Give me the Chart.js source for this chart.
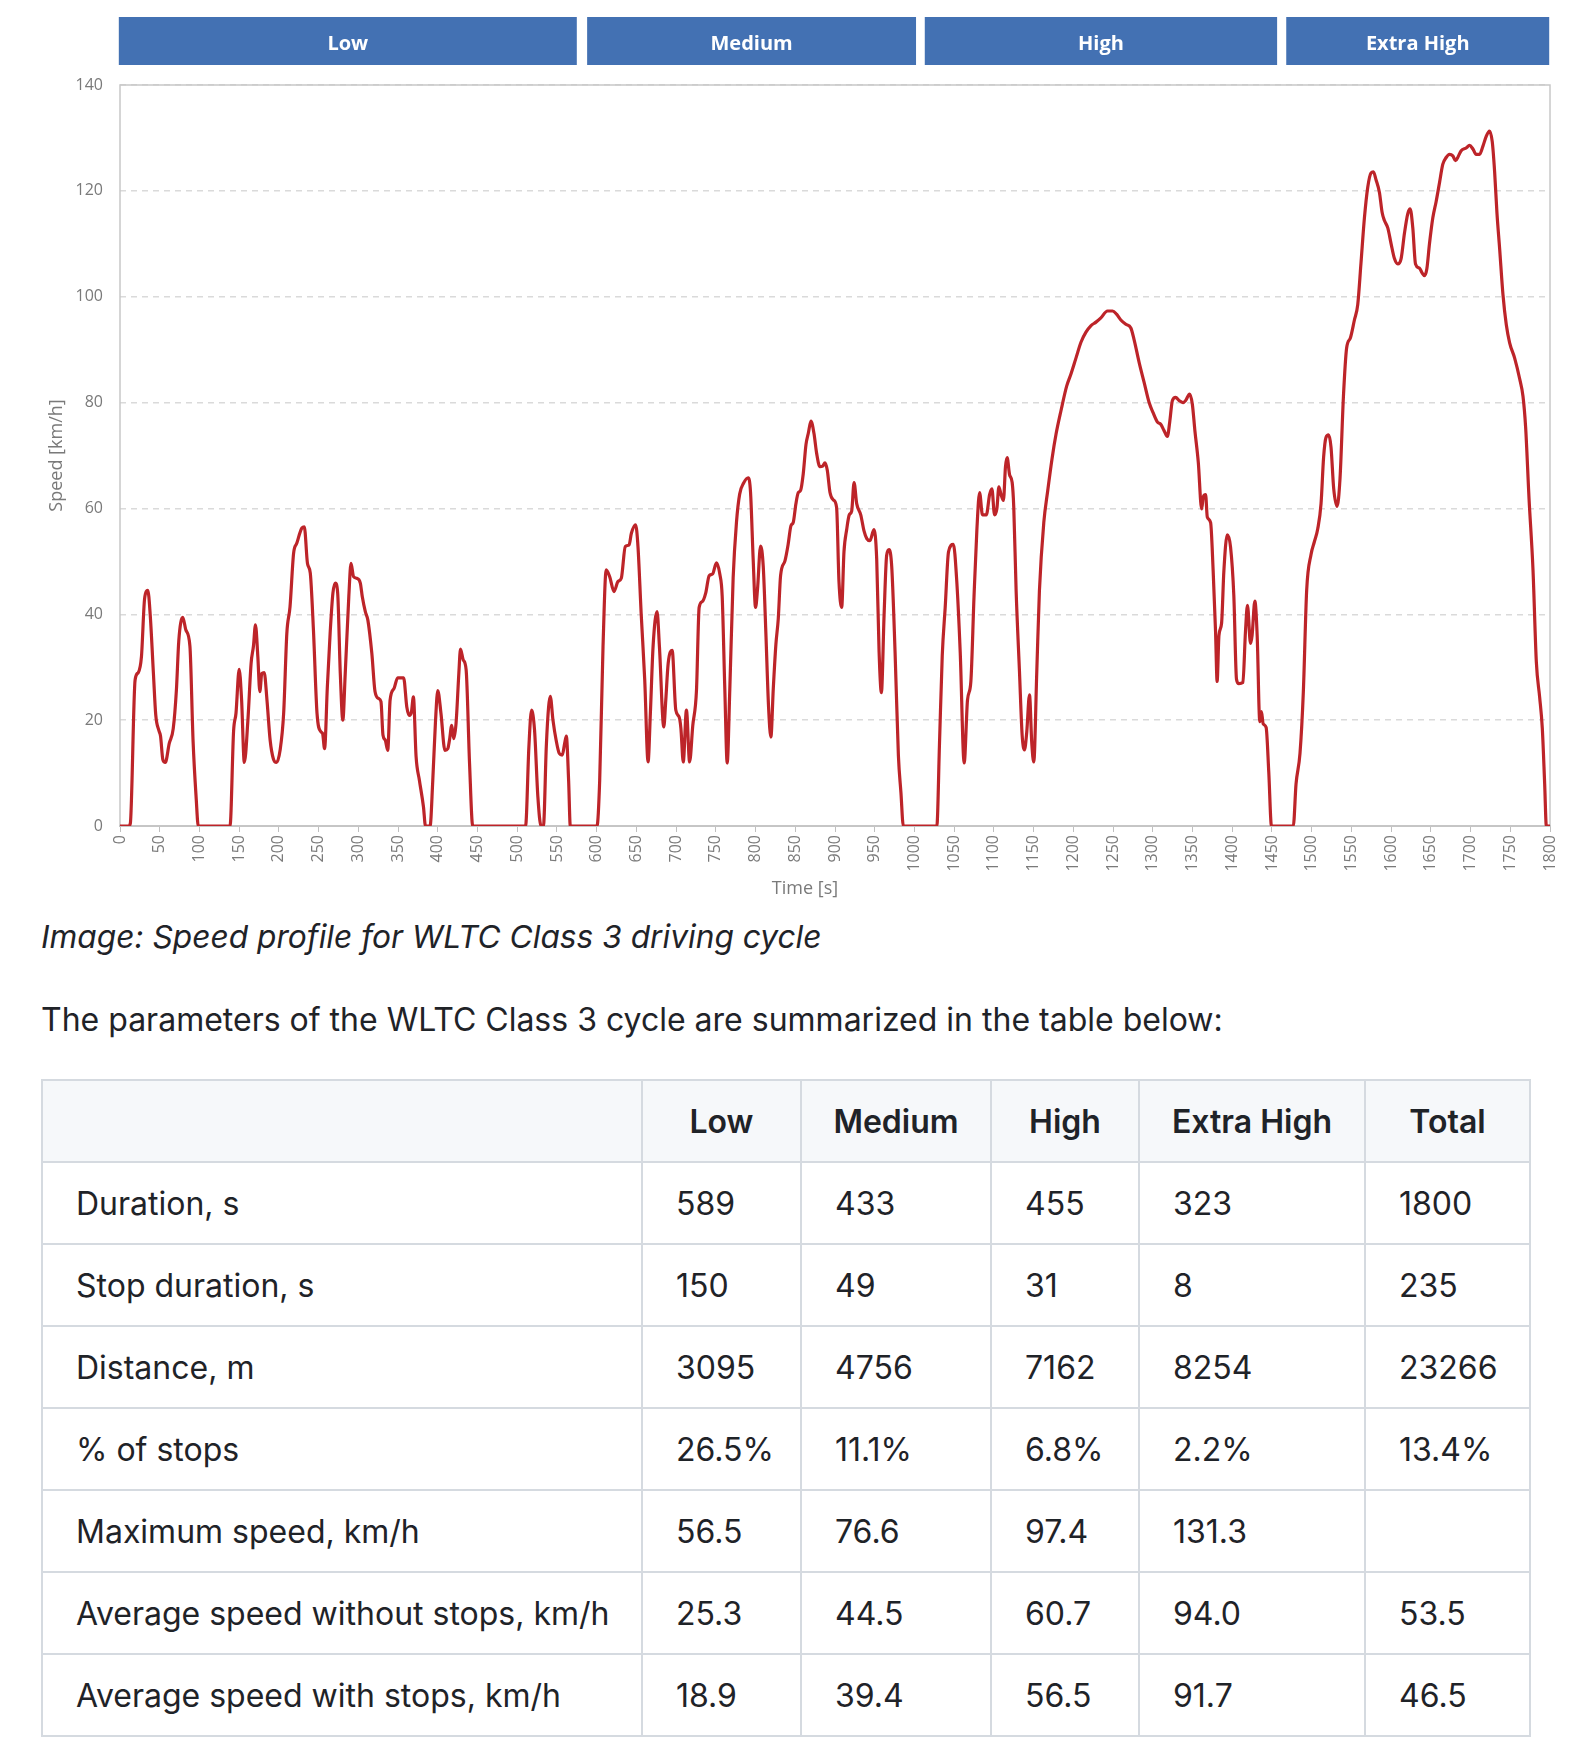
<!DOCTYPE html>
<html>
<head>
<meta charset="utf-8">
<script src="https://cdn.jsdelivr.net/npm/chart.js@4"></script>
<style>
  body { margin: 0; background: #ffffff; width: 1581px; height: 1737px; position: relative; overflow: hidden; }
  #chartBox { position: absolute; left: 0; top: 0; width: 1581px; height: 900px; }
  .caption { position: absolute; left: 41px; top: 917px; font-family: Inter, sans-serif; font-style: italic; font-size: 31.7px; line-height: 40px; color: #1f2328; }
  .para { position: absolute; left: 41px; top: 1000px; font-family: Inter, sans-serif; font-size: 32px; line-height: 40px; color: #1f2328; }
  table { position: absolute; left: 41px; top: 1079px; border-collapse: collapse; table-layout: fixed; font-family: Inter, sans-serif; font-size: 32px; color: #1f2328; }
  td, th { border: 2px solid #d5dae0; height: 82px; padding: 0 0 0 33px; text-align: left; box-sizing: border-box; white-space: nowrap; }
  th { background: #f6f8fa; font-weight: 600; text-align: center; padding: 0; }
</style>
</head>
<body>
<div id="chartBox"><canvas id="wltcChart" width="1581" height="900"></canvas></div>
<div class="caption">Image: Speed profile for WLTC Class 3 driving cycle</div>
<div class="para">The parameters of the WLTC Class 3 cycle are summarized in the table below:</div>
<table id="paramTable"></table>

<script>
// Zeit in s und Geschwindigkeit in km/h
const timeSec = [
  0, 11, 13, 19, 23, 27, 31, 35, 38, 42, 45, 49, 51, 54, 57, 62, 67, 71, 74, 79, 83, 88, 92, 96, 98.5,
  138.5, 143, 146, 150, 153, 156.5, 161, 165, 168, 170.5, 173.5, 176, 178.5, 181.5, 185, 189, 193, 197,
  201.5, 206, 210, 214, 218.5, 222.5, 229, 232, 236, 239.5, 243.5, 248, 253, 255, 257.5, 261, 264.5,
  268, 271, 274, 277.3, 280.5, 283.5, 288, 290.8, 294, 298, 302.5, 305, 308.8, 312, 317, 321, 325.5,
  328.5, 331, 334, 337, 340, 345, 349.5, 357, 361, 364.3, 366.8, 369.3, 372.7, 376.9, 382, 384.5,
  390.3, 393.7, 397, 400, 404, 409, 412.6, 414.7, 417.6, 420, 423, 426.5, 428.6, 432, 435.7, 440, 444,
  510.5, 514.7, 518, 521.8, 526, 530, 533, 536.6, 539.5, 541.6, 545, 549, 553, 556.7, 559.7, 561.8,
  564.7, 566.8, 600.4,
  603.8, 608, 612, 616.4, 621.8, 626.9, 631, 636, 640.8, 643.7, 649, 652, 656, 660.5, 664.7, 667.6,
  671, 676, 679, 684.5, 687, 690, 695, 699.6, 703.8, 706, 709, 713, 717, 721, 725.6, 729, 733, 737.4,
  741.6, 745.8, 750.8, 755, 758, 761.3, 764.3, 767.6, 771.8, 776, 780, 785, 790.8, 793.7, 797, 800,
  802.5, 806.3, 809.7, 813, 816.4, 819.3, 822.3, 825.6, 828.6, 831.5, 837, 841, 844.5, 847.5, 850.8,
  853.8, 856.7, 860, 863.5, 866.4, 869.7, 873.5, 876.9, 881, 884.5, 887.4, 890.3, 893.7, 898, 902,
  905, 908.4, 911.3, 914.7, 918, 921, 924, 927.3, 932.4, 936.6, 940, 944, 949, 952.5, 955.5, 958.4,
  961.8, 965, 968, 971.4, 975.6, 979.8, 983, 986, 1028.2,
  1031.5, 1035, 1038.7, 1042.9, 1049, 1053, 1057.6, 1062.6, 1066.8, 1071, 1075, 1078.6, 1082, 1085.6,
  1090.5, 1094.6, 1097.5, 1100.8, 1103.8, 1106.3, 1109, 1112, 1114.6, 1116.7, 1119.7, 1123, 1125, 1128,
  1132.2, 1135.6, 1138.5, 1141.4, 1144.8, 1147.7, 1150.2, 1154, 1157.3, 1162.8, 1167.8, 1173.2, 1178.2,
  1184.5, 1191.6, 1197, 1203.3, 1209.6, 1215.9, 1222, 1228.5, 1234.7, 1243, 1249.4, 1254.4, 1259.8,
  1266, 1272.4, 1276.6, 1282.8, 1289.1, 1295.4, 1300.4, 1305.9, 1310, 1314.2, 1318.4, 1321.3, 1324.7,
  1328.8, 1333, 1338, 1341.4, 1346.4, 1349.8, 1353, 1357.3, 1361.5, 1363.6, 1366.5, 1368.6, 1372.8,
  1376, 1379, 1381, 1383.3, 1386.6, 1389.5, 1393.7, 1397.9, 1402, 1405.4, 1408.4, 1413.4, 1416.7,
  1419.2, 1423, 1425, 1428.5, 1431.4, 1434.7, 1436.8, 1439, 1442.7, 1446, 1449.4, 1476.9,
  1480.3, 1485.3, 1489.5, 1493.7, 1499.2, 1503.4, 1507.6, 1511.8, 1515, 1518, 1521.4, 1524.4, 1527.7,
  1532, 1535.7, 1540, 1544, 1548.7, 1553.8, 1558, 1562, 1566.4, 1570.6, 1574.8, 1577.7, 1581, 1585.3,
  1588.7, 1591.6, 1595.8, 1600, 1604.2, 1608.4, 1612.6, 1616.8, 1621, 1624, 1627.3, 1630.7, 1635.7,
  1639, 1642, 1645, 1648.3, 1652.5, 1656.7, 1661, 1665, 1669.3, 1673.5, 1677.7, 1681, 1684.5, 1688.2,
  1694.5, 1698.7, 1703, 1707, 1711.3, 1715.5, 1719.7, 1723.9, 1727.3, 1730.3, 1733.2, 1736.6, 1740.8,
  1745, 1749.2, 1755.5, 1761.8, 1766, 1769.3, 1773.6, 1778.6, 1782.8, 1787, 1790.3, 1793.3, 1795.4, 1800
];

const speedKmh = [
  0, 0, 0.5, 27.6, 29, 32, 43, 44.5, 40, 29, 21, 18, 17, 12.5, 12, 15.6, 18.4, 25.7, 35, 39.4, 37, 34, 16, 5, 0,
  0, 18, 21.3, 29.6, 24, 12, 20, 30.7, 34, 38, 32, 25.4, 28.8, 29, 23.8, 16.2, 12.7, 12,
  14.3, 21.3, 36.4, 41.4, 51.5, 53.4, 56.3, 56.5, 49.6, 47.8, 37, 21.3, 17.8, 17.5, 14.6, 26.3, 36.4,
  44, 45.9, 44, 28.8, 20, 28.8, 43.3, 49.6, 47.1, 46.8, 45.9, 43.3, 40.5, 38.9, 32.6, 25.4, 24.1,
  23.5, 17.2, 16.2, 14.3, 23.8, 26, 28, 28, 22.5, 20.9, 21.5, 24.4, 13.1, 8.6, 3.6, 0,
  0, 8.6, 19.4, 25.6, 21.3, 14.3, 14.6, 16.2, 19, 16.5, 19.4, 28.8, 33.4, 31.4, 29.5, 11.8, 0,
  0, 15, 21.9, 18.1, 5.5, 0, 0, 15, 22.5, 24.5, 20, 16.2, 13.7, 13.4, 15.6, 17,
  8.6, 0, 0,
  8.6, 33.9, 48.4, 47.1, 44.3, 46.2, 46.8, 52.8, 53.1, 55.3, 56.9, 52.8, 40.2, 27.6, 12.1, 21.3,
  33.9, 40.5, 33.9, 18.7, 23.8, 30.7, 33.2, 21.9, 20.6, 18.5, 12.1, 21.9, 12.1, 19, 25.5, 41.3, 42.4, 44.1,
  47.3, 47.6, 49.7, 47.6, 43.4, 25.9, 11.9, 25.9, 46.9, 57.4, 62.7, 64.8, 65.8, 63, 50.4, 41.3,
  44.8, 52.9, 49, 36.4, 22.4, 16.8, 25.9, 34.3, 39.2, 47.3, 50.1, 53.2, 56.7, 57.4, 60.9,
  63, 63.4, 66.5, 72.1, 74.2, 76.5, 74.2, 70.4, 67.9, 68, 68.6, 67.2, 63, 61.6, 60.2,
  46.2, 41.3, 51.8, 56, 58.8, 59.5, 64.9, 60.9, 58.8, 55.7, 54.3, 53.9, 56, 50.4, 32.9, 25.2,
  39.9, 51.1, 52.2, 49, 32.9, 13.3, 6.3, 0, 0,
  15.4, 32.2, 41.3, 51.8, 53.2, 46.9, 32.9, 11.9, 23.8, 27.3, 43.4, 56, 63, 58.8,
  58.8, 62.6, 63.7, 58.8, 60, 64.1, 62.6, 61.5, 67.9, 69.6, 66.4, 64.9, 60.3, 44.4,
  29.2, 17.1, 14.4, 17.8, 24.8, 15.6, 12.1, 29.2, 44.4, 57.3, 63.4, 69.4, 74,
  78.5, 83.1, 85.4, 88.4, 91.4, 93.3, 94.5, 95.2, 96, 97.3, 97.3, 96.7, 95.6,
  94.8, 94.1, 91.8, 87.6, 83.8, 80, 78.1, 76.3, 75.9, 74.7, 73.6, 76.3, 80.4,
  81, 80.4, 80, 80.4, 81.6, 79.7, 74.7, 68.7, 59.9, 62.2, 62.6, 58.4, 57.3,
  48.2, 36.8, 27.3, 36, 38.3, 48.2, 55, 52.7, 43.6, 27.7, 26.9, 27.1, 36.8,
  41.7, 34.5, 36, 42.5, 36, 19.7, 21.6, 19.3, 18.6, 10.2, 0, 0,
  7.9, 13.7, 25.3, 44.5, 51.3, 53.7, 56.1, 60.9, 69.6, 73.4, 73.9, 71.5, 63.8,
  60.4, 65.7, 81.2, 90.3, 92.2, 95.6, 98.5, 106.2, 114.9, 120.7, 123.4, 123.6, 122.1, 119.7,
  115.9, 114.4, 113, 110, 107.2, 106.2, 107.2, 112, 115.7, 116.6, 113, 106.2, 105.4,
  104.5, 104, 105.3, 110, 114.9, 118, 121.6, 125, 126.3, 126.9, 126.6, 125.7, 126.5, 127.6,
  128.1, 128.6, 127.9, 126.9, 126.9, 128.4, 130.3, 131.3, 129.3, 123.6, 115.9, 109.1, 100.4,
  94.7, 91.3, 88.4, 84.5, 81.2, 75.4, 61.9, 48.4, 31, 24.3, 18.5, 7.9, 0, 0
];

// Phasen-Balken oben (Zeitbereich in s)
const phaseNames = ['Low', 'Medium', 'High', 'Extra High'];
const phaseFrom = [-1.5, 588, 1013, 1468];
const phaseTo = [575, 1002, 1456.5, 1799];

// Tabelle
const tableHeader = ['', 'Low', 'Medium', 'High', 'Extra High', 'Total'];
const rowLabels = [
  'Duration, s', 'Stop duration, s', 'Distance, m', '% of stops',
  'Maximum speed, km/h', 'Average speed without stops, km/h', 'Average speed with stops, km/h'
];
const rowValues = [
  ['589', '433', '455', '323', '1800'],
  ['150', '49', '31', '8', '235'],
  ['3095', '4756', '7162', '8254', '23266'],
  ['26.5%', '11.1%', '6.8%', '2.2%', '13.4%'],
  ['56.5', '76.6', '97.4', '131.3', ''],
  ['25.3', '44.5', '60.7', '94.0', '53.5'],
  ['18.9', '39.4', '56.5', '91.7', '46.5']
];
const colWidths = [600, 159, 190, 148, 226, 165];

function buildTable() {
  const table = document.getElementById('paramTable');
  let html = '<colgroup>' + colWidths.map(w => '<col style="width:' + w + 'px">').join('') + '</colgroup>';
  html += '<tr>' + tableHeader.map(h => '<th>' + h + '</th>').join('') + '</tr>';
  rowLabels.forEach((label, i) => {
    html += '<tr><td>' + label + '</td>' + rowValues[i].map(v => '<td>' + v + '</td>').join('') + '</tr>';
  });
  table.innerHTML = html;
}
buildTable();

const axisFont = "'Open Sans', 'DejaVu Sans', sans-serif";

const phaseBars = {
  id: 'phaseBars',
  beforeDatasetsDraw(chart) {
    const ctx = chart.ctx;
    const a = chart.chartArea;
    ctx.save();
    ctx.strokeStyle = '#c8c8c8';  // Rahmen der Zeichenfläche
    ctx.lineWidth = 1.5;
    ctx.strokeRect(a.left, a.top, a.right - a.left, a.bottom - a.top);
    ctx.restore();
  },
  afterDraw(chart) {
    const ctx = chart.ctx;
    const xs = chart.scales.x;
    const a = chart.chartArea;
    ctx.save();
    phaseNames.forEach((name, i) => {
      const x1 = xs.getPixelForValue(phaseFrom[i]);
      const x2 = xs.getPixelForValue(phaseTo[i]);
      ctx.fillStyle = '#4371b3';
      ctx.fillRect(x1, 17, x2 - x1, 48);
      ctx.fillStyle = '#ffffff';
      ctx.font = "bold 20px " + axisFont;
      ctx.textAlign = 'center';
      ctx.textBaseline = 'middle';
      ctx.fillText(name, (x1 + x2) / 2, 44);
    });
    // Achsentitel x, etwas links der Mitte wie im Original
    ctx.fillStyle = '#7a7a7a';
    ctx.font = "18px " + axisFont;
    ctx.textAlign = 'center';
    ctx.textBaseline = 'middle';
    ctx.fillText('Time [s]', (a.left + a.right) / 2 - 30, 889);
    ctx.restore();
  }
};

const ctx = document.getElementById('wltcChart').getContext('2d');

const myChart = new Chart(ctx, {
  type: 'line',
  data: {
    datasets: [{
      label: 'Speed',
      data: timeSec.map((t, i) => ({ x: t, y: speedKmh[i] })),
      borderColor: '#bd2429',
      backgroundColor: '#bd2429',
      borderWidth: 3.2,
      pointRadius: 0,
      cubicInterpolationMode: 'monotone',
      fill: false
    }]
  },
  options: {
    responsive: false,
    animation: false,
    layout: {
      padding: { left: 0, right: 31, top: 85, bottom: 0 }
    },
    scales: {
      x: {
        type: 'linear',
        min: 0,
        max: 1800,
        afterFit: (s) => { s.height = 74; },
        title: { display: false },
        ticks: {
          stepSize: 50,
          autoSkip: false,
          maxRotation: 90,
          minRotation: 90,
          padding: 3,
          color: '#7a7a7a',
          font: { family: axisFont, size: 16 },
          callback: (v) => String(v)
        },
        grid: {
          display: true,
          drawOnChartArea: false,
          drawTicks: true,
          tickLength: 6,
          color: '#bfbfbf'
        },
        border: { display: true, color: '#bfbfbf', width: 2 }
      },
      y: {
        min: 0,
        max: 140,
        afterFit: (s) => { s.width = 120; },
        title: {
          display: true,
          text: 'Speed [km/h]',
          color: '#7a7a7a',
          font: { family: axisFont, size: 18 },
          padding: { top: 46, bottom: 0 }
        },
        ticks: {
          stepSize: 20,
          padding: 17,
          color: '#7a7a7a',
          font: { family: axisFont, size: 16 }
        },
        grid: {
          color: '#dadada',
          lineWidth: 1.5,
          drawTicks: false
        },
        border: { display: false, dash: [6, 5] }
      }
    },
    plugins: {
      legend: { display: false },
      tooltip: { enabled: false }
    }
  },
  plugins: [phaseBars]
});
</script>
</body>
</html>
